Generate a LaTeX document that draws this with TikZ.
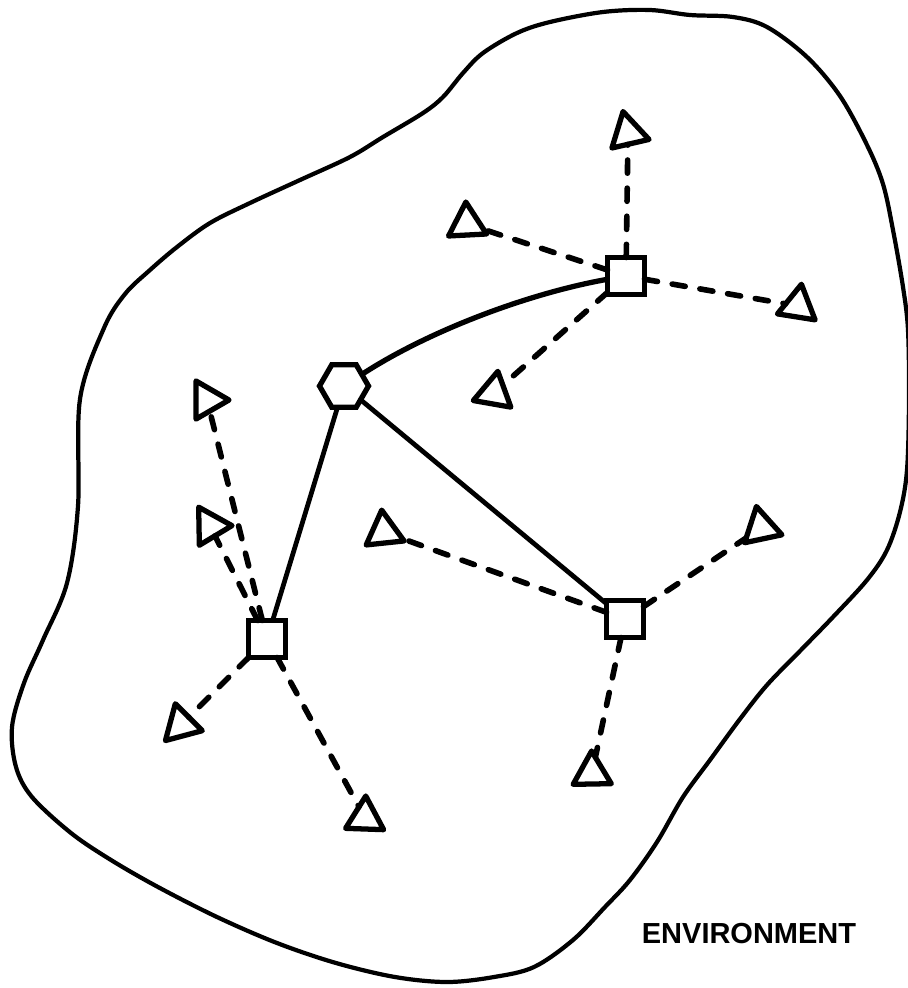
\documentclass[tikz,border=0pt]{standalone}
\usepackage{fontspec}
\setmainfont{Liberation Sans}
\usetikzlibrary{shapes.geometric}
\begin{document}
\begin{tikzpicture}[x=0.02cm,y=-0.02cm,
  sq/.style={draw, line width=3pt, minimum size=0.74cm, inner sep=0pt, outer sep=0pt, fill=white},
  tri/.style={draw, regular polygon, regular polygon sides=3, line width=3pt, minimum size=0.88cm, inner sep=0pt, outer sep=0pt, line join=round},
  hex/.style={draw, regular polygon, regular polygon sides=6, line width=3pt, minimum size=0.98cm, inner sep=0pt, outer sep=0pt},
  dsh/.style={line width=3.2pt, dash pattern=on 7.5pt off 8.5pt, line cap=round},
  link/.style={line width=2.7pt},
  envline/.style={line width=2.4pt, line join=round},
  envtext/.style={font=\bfseries\fontsize{16.5}{18}\selectfont, inner sep=0pt}]
\useasboundingbox (0,0) rectangle (908,988);

% environment outline
\draw[envline] plot[smooth cycle, tension=0.55] coordinates {
 (150,270) (125,294) (104,328) (80,399) (78,506) (67,583) (43,640) (24,683)
 (12,727) (16,767) (32,797) (71,833) (111,860) (158,887) (217,917) (277,943)
 (336,963) (395,977) (447,982) (494,977) (534,967) (573,940) (605,907) (630,880)
 (657,842) (683,797) (710,760) (740,719) (767,685) (800,651) (833,617) (867,580)
 (887,550) (900,512) (907,470) (909,400) (908,330) (903,287) (893,230) (883,184)
 (867,145) (840,96) (807,57) (767,27) (733,17) (690,15) (650,10) (603,12)
 (550,22) (517,33) (483,53) (463,73) (443,97) (423,113) (383,137) (350,157)
 (300,180) (250,203) (210,223) (177,247)};

% central hexagon and squares
\node[hex] (H) at (344,386) {};
\node[sq] (S1) at (626,276) {};
\node[sq] (S2) at (267,639) {};
\node[sq] (S3) at (625,619) {};

% triangles
\node[tri, rotate=13]  (T1)  at (628,133) {};
\node[tri, rotate=3]   (T2)  at (467,224) {};
\node[tri, rotate=-9]  (T3)  at (798,306) {};
\node[tri, rotate=-10] (T4)  at (494,393) {};
\node[tri, rotate=30]  (T5)  at (207,400) {};
\node[tri, rotate=31]  (T6)  at (210,526) {};
\node[tri, rotate=15]  (T7)  at (181,725) {};
\node[tri, rotate=-2]  (T8)  at (365,818) {};
\node[tri, rotate=6]   (T9)  at (384,532) {};
\node[tri, rotate=12]  (T10) at (761,528) {};
\node[tri, rotate=1]   (T11) at (592,773) {};

% solid links
\draw[link, line width=3pt] (H) .. controls (430,330) and (530,293) .. (S1);
\draw[link] (H) -- (S2);
\draw[link] (H) -- (S3);

% dashed links
\draw[dsh] (S1) -- (T1);
\draw[dsh] (S1) -- (T2);
\draw[dsh] (S1) -- (T3);
\draw[dsh] (S1) -- (T4);
\draw[dsh] (S2) -- (T5);
\draw[dsh] (S2) -- (T6);
\draw[dsh] (S2) -- (T7);
\draw[dsh] (S2) -- (T8);
\draw[dsh] (S3) -- (T9);
\draw[dsh] (S3) -- (T10);
\draw[dsh] (S3) -- (T11);

\node[envtext] (env) at (749,934) {ENVIRONMENT};
\end{tikzpicture}
\end{document}
